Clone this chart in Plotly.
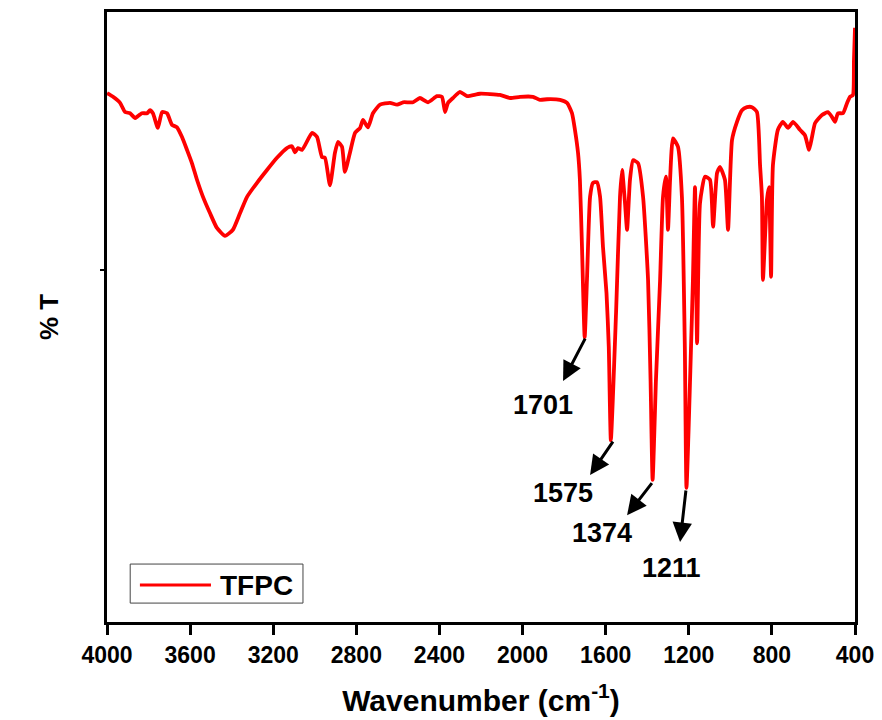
import plotly.graph_objects as go

# FTIR spectrum of TFPC
wavenumber = [4000, 3971, 3937, 3913, 3889, 3865, 3856, 3832, 3807, 3793, 3779, 3755, 3735, 3711,
              3687, 3663, 3639, 3615, 3591, 3567, 3538, 3504, 3471, 3432, 3394, 3360, 3326, 3278,
              3230, 3182, 3134, 3110, 3095, 3081, 3061, 3013, 2989, 2965, 2951, 2927, 2903, 2888,
              2869, 2855, 2831, 2806, 2782, 2768, 2744, 2720, 2686, 2638, 2604, 2575, 2527, 2494,
              2455, 2412, 2388, 2373, 2359, 2335, 2301, 2267, 2205, 2109, 2060, 2012, 1950, 1916,
              1882, 1820, 1786, 1762, 1748, 1733, 1724, 1714, 1701, 1690, 1675, 1661, 1642, 1627,
              1613, 1596, 1585, 1575, 1550, 1531, 1521, 1507, 1497, 1483, 1468, 1444, 1420, 1396,
              1384, 1374, 1358, 1338, 1324, 1310, 1300, 1290, 1276, 1252, 1233, 1219, 1211, 1190,
              1180, 1170, 1160, 1146, 1122, 1098, 1083, 1064, 1050, 1026, 1011, 992, 968, 944,
              920, 896, 872, 857, 848, 843, 824, 814, 804, 795, 771, 747, 722, 698, 665, 641, 621,
              607, 592, 559, 530, 511, 496, 482, 458, 438, 424, 410, 405, 400]
transmittance = [86.7, 86.1, 85.1, 83.6, 83.4, 82.6, 82.8, 83.4, 83.4, 83.9, 83.4, 81.0, 83.6, 83.4,
                 81.5, 81.1, 79.5, 77.4, 75.2, 72.5, 69.7, 67.0, 64.6, 63.3, 64.3, 67.0, 69.7, 72.0,
                 74.1, 76.1, 77.7, 78.0, 77.0, 77.7, 77.4, 80.2, 79.5, 76.2, 76.1, 71.6, 76.9, 78.7,
                 77.9, 73.8, 76.9, 80.2, 81.0, 82.3, 81.1, 83.4, 84.8, 85.1, 84.8, 85.2, 85.2, 85.9,
                 85.2, 86.2, 86.1, 83.6, 85.1, 85.9, 86.9, 86.2, 86.6, 86.4, 85.9, 86.1, 86.1, 85.6,
                 85.7, 85.6, 85.1, 83.4, 80.7, 76.9, 72.5, 61.5, 46.7, 56.1, 69.7, 72.0, 72.1, 69.7,
                 61.5, 53.9, 45.1, 29.8, 50.7, 69.7, 74.1, 68.7, 64.3, 72.5, 75.7, 75.2, 69.7, 56.1,
                 39.7, 23.3, 39.7, 56.1, 69.7, 73.0, 64.3, 72.5, 79.3, 77.9, 69.7, 45.1, 22.0, 44.1,
                 56.1, 71.3, 45.7, 68.7, 73.0, 72.5, 64.8, 73.6, 74.6, 72.5, 64.3, 79.0, 82.0, 83.9,
                 84.4, 84.4, 83.6, 74.9, 69.7, 56.1, 69.2, 71.3, 56.6, 74.9, 80.7, 82.0, 81.0, 82.0,
                 80.7, 79.8, 77.4, 79.5, 81.8, 83.1, 83.6, 82.8, 82.0, 83.4, 83.4, 85.1, 86.1, 86.4,
                 92.1, 97.4]

x_ticks = [4000, 3600, 3200, 2800, 2400, 2000, 1600, 1200, 800, 400]
peak_labels = ["1701", "1575", "1374", "1211"]
series_name = "TFPC"

FONT = "Liberation Sans, Arial, sans-serif"

# arrow (head, tail) and label positions for each marked peak (layout only)
arrow_heads = [(1805, 39.5), (1675, 24.1), (1497, 17.5), (1242, 13.1)]
arrow_tails = [(1695, 46.7), (1560, 29.8), (1372, 23.0), (1213, 21.8)]
label_pos = [(1902, 35.6), (1805, 21.1), (1618, 14.6), (1281, 8.9)]

fig = go.Figure()
fig.add_trace(go.Scatter(x=wavenumber, y=transmittance, mode="lines", name=series_name,
                         line=dict(color="#ff0000", width=3.8, shape="spline", smoothing=0.5),
                         showlegend=False))

annotations = []
for (hx, hy), (tx, ty), (lx, ly), txt in zip(arrow_heads, arrow_tails, label_pos, peak_labels):
    annotations.append(dict(x=hx, y=hy, ax=tx, ay=ty, xref="x", yref="y", axref="x", ayref="y",
                            text="", showarrow=True, arrowhead=2, arrowsize=1.3, arrowwidth=3,
                            arrowcolor="black", standoff=0, startstandoff=0))
    annotations.append(dict(x=lx, y=ly, xref="x", yref="y", text=txt, showarrow=False,
                            font=dict(family=FONT, size=27, color="black", weight="bold")))

# custom legend box
annotations.append(dict(x=0.149, y=0.0605, xref="paper", yref="paper", text=series_name,
                        showarrow=False, xanchor="left", yanchor="middle",
                        font=dict(family=FONT, size=28, color="black", weight="bold")))
shapes = [
    dict(type="rect", xref="paper", yref="paper", x0=0.031, x1=0.262, y0=0.031, y1=0.095,
         line=dict(color="#444444", width=1), fillcolor="white", layer="above"),
    dict(type="line", xref="paper", yref="paper", x0=0.044, x1=0.139, y0=0.0605, y1=0.0605,
         line=dict(color="#ff0000", width=3), layer="above"),
]

fig.update_layout(
    width=882, height=720,
    margin=dict(l=107, r=27, t=12, b=98, autoexpand=False),
    paper_bgcolor="white", plot_bgcolor="white",
    annotations=annotations, shapes=shapes,
    showlegend=False,
    xaxis=dict(range=[4000, 400], tickvals=x_ticks, ticktext=[str(v) for v in x_ticks],
               automargin=False,
               showgrid=False, zeroline=False, showline=True, linecolor="black", linewidth=3,
               mirror=True, ticks="outside", ticklen=10, tickwidth=3, tickcolor="black",
               tickfont=dict(family=FONT, size=23, color="black", weight="bold"),
               title=dict(text="Wavenumber (cm<sup>-1</sup>)", standoff=24,
                          font=dict(family=FONT, size=30, color="black", weight="bold"))),
    yaxis=dict(range=[0, 100], tickvals=[57.7], showticklabels=False, automargin=False,
               showgrid=False, zeroline=False, showline=True, linecolor="black", linewidth=3,
               mirror=True, ticks="outside", ticklen=4, tickwidth=2, tickcolor="black",
               title=dict(text="% T", standoff=34,
                          font=dict(family=FONT, size=26, color="black", weight="bold"))),
)

fig.write_html("out.html")
